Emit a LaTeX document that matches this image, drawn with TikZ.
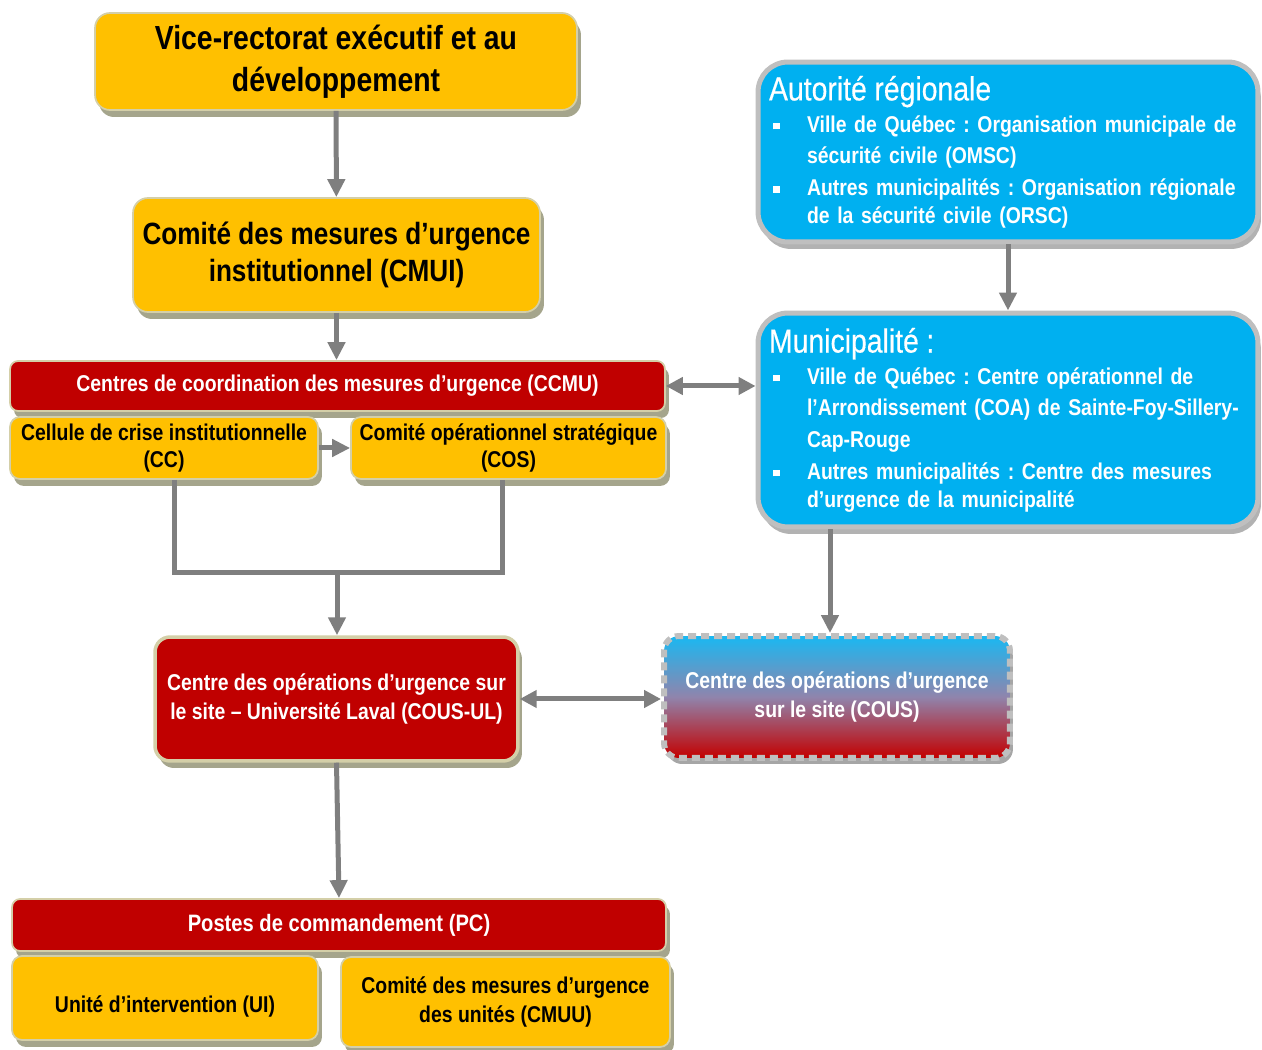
\documentclass[tikz,border=0pt]{standalone}
\usepackage{fontspec}
\setmainfont[FakeStretch=0.85]{Liberation Sans}
\newfontfamily\headfont[FakeStretch=0.85,FakeBold=0.4]{Liberation Sans}
\usetikzlibrary{arrows.meta,shadows}
\definecolor{gold}{HTML}{FFC000}
\definecolor{darkred}{HTML}{C00000}
\definecolor{skyblue}{HTML}{00B0F0}
\definecolor{arrowgray}{HTML}{7F7F7F}
\definecolor{khaki}{HTML}{D4CFA8}
\definecolor{olivegray}{HTML}{A5A58C}
\definecolor{bordergray}{HTML}{BFBFBF}
\definecolor{lavender}{HTML}{9084AC}
\newcommand{\bul}{\makebox[0.76cm][l]{\hspace{0.08cm}\raisebox{0.12em}{\rule{0.13cm}{0.13cm}}}}
\newcommand{\ind}{\hspace*{0.76cm}}
\begin{document}
\frenchspacing
\begin{tikzpicture}[x=0.02cm,y=-0.02cm,
  box/.style={rounded corners=0.3cm, draw=khaki, line width=1pt, align=center, inner sep=0pt,
    drop shadow={shadow xshift=0.08cm, shadow yshift=-0.14cm, fill=olivegray, opacity=1}},
  goldbox/.style={box, fill=gold, text=black},
  redbox/.style={box, fill=darkred, text=white, rounded corners=0.16cm},
  bluebox/.style={rounded corners=0.6cm, draw=bordergray, line width=0.1cm, fill=skyblue, text=white,
    align=left, inner xsep=0.22cm, inner ysep=0pt,
    font=\fontsize{13}{18}\selectfont\bfseries,
    drop shadow={shadow xshift=0.06cm, shadow yshift=-0.14cm, fill=black, opacity=0.3}},
  cousbox/.style={rounded corners=0.3cm, draw=bordergray, line width=0.12cm, dash pattern=on 0.16cm off 0.1cm,
    top color=skyblue!90!white, bottom color=darkred!95!red, middle color=lavender, text=white, align=center,
    font=\fontsize{13}{16}\selectfont\bfseries,
    drop shadow={shadow xshift=0.06cm, shadow yshift=-0.12cm, fill=black, opacity=0.35}},
  arr/.style={draw=arrowgray, line width=0.1cm, -{Triangle[length=0.36cm,width=0.34cm]}},
  dblarr/.style={draw=arrowgray, line width=0.1cm, {Triangle[length=0.34cm,width=0.34cm]}-{Triangle[length=0.34cm,width=0.34cm]}},
  conn/.style={draw=arrowgray, line width=0.1cm}]
\useasboundingbox (0,0) rectangle (1262,1050);

\node[goldbox, minimum width=9.64cm, minimum height=1.94cm, font=\fontsize{19}{24}\selectfont\bfseries] (vice) at (336,61.5) {Vice-rectorat exécutif et au\\développement};
\node[goldbox, minimum width=8.14cm, minimum height=2.28cm, font=\fontsize{17.5}{21}\selectfont\bfseries] (cmui) at (336.5,255) {Comité des mesures d’urgence\\institutionnel (CMUI)};
\node[redbox, minimum width=13.1cm, minimum height=1.0cm, font=\fontsize{13}{16}\selectfont\bfseries] (ccmu) at (337.5,386) {Centres de coordination des mesures d’urgence (CCMU)};
\node[goldbox, rounded corners=0.2cm, minimum width=6.16cm, minimum height=1.24cm, font=\fontsize{13}{15.5}\selectfont\bfseries] (cc) at (164,448) {Cellule de crise institutionnelle\\(CC)};
\node[goldbox, rounded corners=0.2cm, minimum width=6.3cm, minimum height=1.24cm, font=\fontsize{13}{15.5}\selectfont\bfseries] (cos) at (508.5,448) {Comité opérationnel stratégique\\(COS)};

\node[bluebox, text width=9.56cm, minimum height=3.6cm] (autor) at (1008,152) {{\headfont\mdseries\fontsize{19}{22}\selectfont Autorité régionale}\\
\bul Ville de Québec : Organisation municipale de\\
\ind sécurité civile (OMSC)\\
\bul Autres municipalités : Organisation régionale\\[-2pt]
\ind de la sécurité civile (ORSC)};
\node[bluebox, text width=9.56cm, minimum height=4.28cm] (muni) at (1008,420) {{\headfont\mdseries\fontsize{19}{22}\selectfont Municipalité :}\\
\bul Ville de Québec : Centre opérationnel de\\
\ind l’Arrondissement (COA) de Sainte-Foy-Sillery-\\
\ind Cap-Rouge\\
\bul Autres municipalités : Centre des mesures\\[-2pt]
\ind d’urgence de la municipalité};

\node[redbox, rounded corners=0.3cm, line width=2pt, minimum width=7.26cm, minimum height=2.48cm, font=\fontsize{13}{16}\selectfont\bfseries] (cousul) at (336.5,699) {Centre des opérations d’urgence sur\\le site -- Université Laval (COUS-UL)};
\node[cousbox, minimum width=6.92cm, minimum height=2.44cm] (cous) at (837,697) {Centre des opérations d’urgence\\sur le site (COUS)};

\node[redbox, minimum width=13.08cm, minimum height=1.04cm, font=\fontsize{13.5}{16}\selectfont\bfseries] (pc) at (339,925) {Postes de commandement (PC)};
\node[goldbox, rounded corners=0.2cm, minimum width=6.12cm, minimum height=1.68cm, text height=0.65cm, text depth=0.08cm, font=\fontsize{13}{16}\selectfont\bfseries] (ui) at (165,998) {Unité d’intervention (UI)};
\node[goldbox, rounded corners=0.2cm, minimum width=6.58cm, minimum height=1.8cm, font=\fontsize{13}{16}\selectfont\bfseries] (cmuu) at (505.5,1002) {Comité des mesures d’urgence\\des unités (CMUU)};

\coordinate (join) at (337,573);
\coordinate (cousin) at ([xshift=-0.14cm]cous.north);
\draw[arr] (vice) -- (cmui);
\draw[arr] (cmui.south) -- (cmui.south |- ccmu.north);
\draw[arr] (cc.east) -- (cos.west);
\draw[conn] ([xshift=0.22cm]cc.south) |- (join) -| ([xshift=-0.13cm]cos.south);
\draw[arr] (join) -- (join |- cousul.north);
\draw[dblarr] (ccmu.east) -- (ccmu.east -| muni.west);
\draw[arr] (autor) -- (muni);
\draw[arr] (muni.south -| cousin) -- (cousin);
\draw[dblarr] (cousul.east) -- (cousul.east -| cous.west);
\draw[arr] (cousul.south) -- (pc.north);
\end{tikzpicture}
\end{document}
